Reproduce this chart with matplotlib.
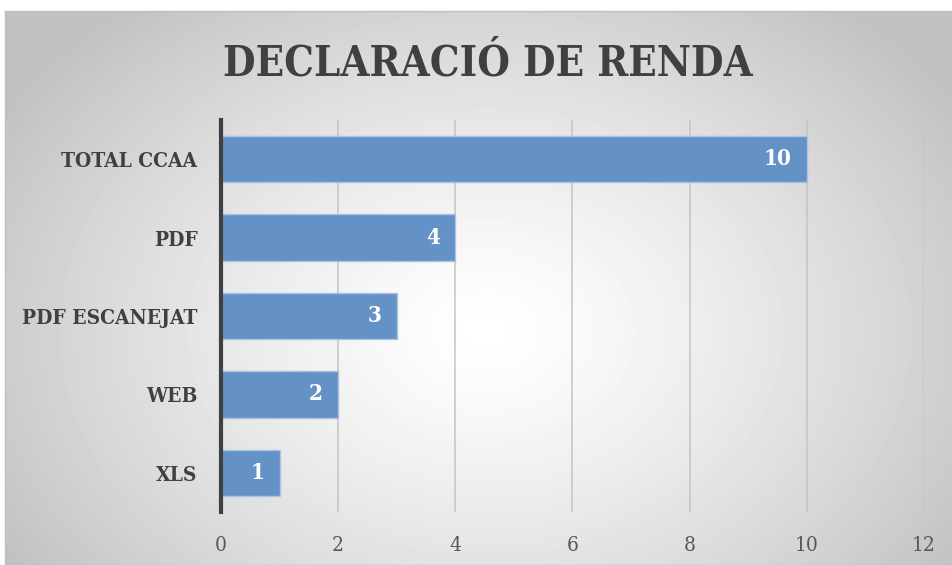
import matplotlib.pyplot as plt
import numpy as np

# values
categories = ['TOTAL CCAA', 'PDF', 'PDF ESCANEJAT', 'WEB', 'XLS']
values = [10, 4, 3, 2, 1]
xticks = [0, 2, 4, 6, 8, 10, 12]

serif = 'DejaVu Serif'

fig = plt.figure(figsize=(9.53, 5.65), dpi=100)

# radial gradient background of the chart area
bg = fig.add_axes([5 / 953, 0, 1 - 5 / 953, 1 - 11 / 565])
h, w = 554, 948
yy, xx = np.mgrid[0:h, 0:w]
r = np.sqrt(((xx - 480) / 560.0) ** 2 + ((yy - 320) / 420.0) ** 2)
shade = np.clip(1 - 0.24 * r ** 1.3, 0.76, 1)
bg.imshow(shade, cmap='gray', vmin=0, vmax=1, aspect='auto', interpolation='bilinear')
bg.set_xticks([])
bg.set_yticks([])
for s in bg.spines.values():
    s.set_color('#bfbfbf')
    s.set_linewidth(1)

ax = fig.add_axes([221 / 953, 1 - 512 / 565, 703 / 953, 392 / 565])
ax.patch.set_alpha(0)
ypos = np.arange(len(categories))
ax.barh(ypos, values, height=0.59, color='#6592c6', edgecolor='#a8c2e2', linewidth=1, zorder=3)
ax.set_ylim(len(categories) - 0.5, -0.5)
ax.set_xlim(0, 12)
ax.set_xticks(xticks)
ax.grid(axis='x', color='#c4c4c4', linewidth=1.1, zorder=0)
ax.set_yticks(ypos)
ax.set_yticklabels(categories, fontfamily=serif, fontstretch='condensed', fontweight='bold',
                   fontsize=15, color='#404040')
ax.tick_params(axis='y', length=0, pad=17)
ax.tick_params(axis='x', length=0, pad=17, labelsize=15, labelcolor='#595959')
for lab in ax.get_xticklabels():
    lab.set_fontfamily(serif)
    lab.set_fontstretch('condensed')
for side in ['top', 'right', 'bottom']:
    ax.spines[side].set_visible(False)
ax.spines['left'].set_color('#404040')
ax.spines['left'].set_linewidth(3)
ax.spines['left'].set_zorder(4)

for y, v in zip(ypos, values):
    ax.annotate(str(v), (v, y), xytext=(-11, 0), textcoords='offset points',
                ha='right', va='center', color='white', fontsize=16, fontweight='bold',
                fontfamily=serif, fontstretch='condensed', zorder=5)

fig.text(488 / 953, 1 - 64 / 565, 'DECLARACIÓ DE RENDA', ha='center', va='center',
         fontfamily=serif, fontstretch='condensed', fontweight='bold', fontsize=30, color='#404040')

fig.savefig('out.png', dpi=100)
